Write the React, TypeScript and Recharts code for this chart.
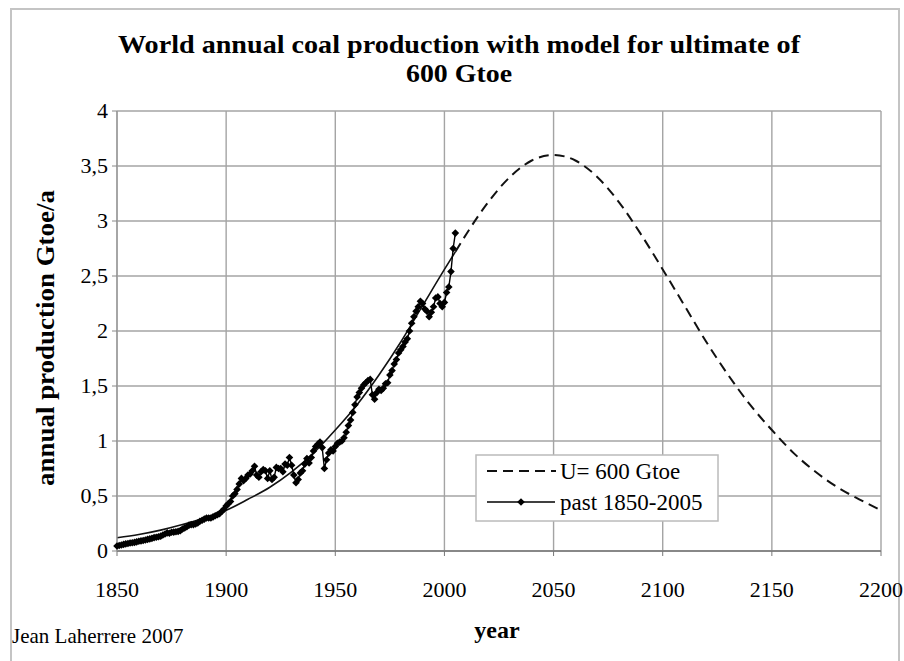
import { CartesianGrid, Line, LineChart, XAxis, YAxis } from "recharts";

const pastYears = [
  1850, 1851, 1852, 1853, 1854, 1855, 1856, 1857, 1858, 1859,
  1860, 1861, 1862, 1863, 1864, 1865, 1866, 1867, 1868, 1869,
  1870, 1871, 1872, 1873, 1874, 1875, 1876, 1877, 1878, 1879,
  1880, 1881, 1882, 1883, 1884, 1885, 1886, 1887, 1888, 1889,
  1890, 1891, 1892, 1893, 1894, 1895, 1896, 1897, 1898, 1899,
  1900, 1901, 1902, 1903, 1904, 1905, 1906, 1907, 1908, 1909,
  1910, 1911, 1912, 1913, 1914, 1915, 1916, 1917, 1918, 1919,
  1920, 1921, 1922, 1923, 1924, 1925, 1926, 1927, 1928, 1929,
  1930, 1931, 1932, 1933, 1934, 1935, 1936, 1937, 1938, 1939,
  1940, 1941, 1942, 1943, 1944, 1945, 1946, 1947, 1948, 1949,
  1950, 1951, 1952, 1953, 1954, 1955, 1956, 1957, 1958, 1959,
  1960, 1961, 1962, 1963, 1964, 1965, 1966, 1967, 1968, 1969,
  1970, 1971, 1972, 1973, 1974, 1975, 1976, 1977, 1978, 1979,
  1980, 1981, 1982, 1983, 1984, 1985, 1986, 1987, 1988, 1989,
  1990, 1991, 1992, 1993, 1994, 1995, 1996, 1997, 1998, 1999,
  2000, 2001, 2002, 2003, 2004, 2005,
];

// Gtoe/a
const pastProduction = [
  0.045, 0.05, 0.055, 0.06, 0.065, 0.068, 0.073, 0.075, 0.078, 0.083,
  0.088, 0.092, 0.095, 0.1, 0.106, 0.11, 0.115, 0.122, 0.125, 0.13,
  0.135, 0.145, 0.155, 0.165, 0.162, 0.17, 0.172, 0.175, 0.178, 0.185,
  0.2, 0.21, 0.22, 0.235, 0.24, 0.24, 0.245, 0.255, 0.27, 0.28,
  0.29, 0.3, 0.3, 0.3, 0.31, 0.32, 0.33, 0.34, 0.36, 0.38,
  0.41, 0.43, 0.45, 0.5, 0.52, 0.56, 0.61, 0.66, 0.64, 0.66,
  0.69, 0.7, 0.73, 0.77, 0.69, 0.67, 0.72, 0.74, 0.73, 0.66,
  0.73, 0.65, 0.67, 0.76, 0.75, 0.75, 0.72, 0.79, 0.78, 0.85,
  0.78, 0.69, 0.62, 0.65, 0.71, 0.73, 0.79, 0.84, 0.8, 0.85,
  0.91, 0.95, 0.97, 0.99, 0.94, 0.75, 0.83, 0.89, 0.92, 0.91,
  0.95, 0.98, 0.99, 1.0, 1.03, 1.08, 1.14, 1.19, 1.26, 1.33,
  1.4, 1.44, 1.48, 1.51, 1.53, 1.55, 1.56, 1.42, 1.38, 1.44,
  1.47, 1.46, 1.48, 1.52, 1.53, 1.6, 1.64, 1.7, 1.74, 1.8,
  1.83, 1.86, 1.9, 1.93, 2.0, 2.07, 2.13, 2.18, 2.22, 2.27,
  2.25, 2.2, 2.18, 2.13, 2.17, 2.22, 2.3, 2.31, 2.25, 2.22,
  2.26, 2.35, 2.4, 2.54, 2.75, 2.89,
];

// model U = 600 Gtoe, solid over the past
const modelPastYears = [1850, 1860, 1870, 1880, 1890, 1900, 1910, 1920, 1930, 1940, 1950, 1960, 1970, 1980, 1990, 2000, 2005];
const modelPastValues = [0.12, 0.15, 0.19, 0.24, 0.3, 0.37, 0.47, 0.58, 0.72, 0.89, 1.1, 1.33, 1.6, 1.9, 2.23, 2.56, 2.72];

// model, dashed for the forecast
const modelFutureYears = [2005, 2010, 2020, 2030, 2040, 2050, 2060, 2070, 2080, 2090, 2100, 2110, 2120, 2130, 2140, 2150, 2160, 2170, 2180, 2190, 2200];
const modelFutureValues = [2.72, 2.88, 3.17, 3.4, 3.55, 3.6, 3.55, 3.4, 3.17, 2.88, 2.56, 2.23, 1.9, 1.6, 1.33, 1.1, 0.89, 0.72, 0.58, 0.47, 0.37];

const xTicks = [1850, 1900, 1950, 2000, 2050, 2100, 2150, 2200];
const yTicks = [0, 0.5, 1, 1.5, 2, 2.5, 3, 3.5, 4];

const past = pastYears.map((year, i) => ({ year, value: pastProduction[i] }));
const modelPast = modelPastYears.map((year, i) => ({ year, value: modelPastValues[i] }));
const modelFuture = modelFutureYears.map((year, i) => ({ year, value: modelFutureValues[i] }));

const serif = "'Liberation Serif', 'Times New Roman', serif";

function Diamond({ cx, cy }: any) {
  if (cx == null || cy == null) return null;
  const r = 3.8;
  return <polygon points={`${cx},${cy - r} ${cx + r},${cy} ${cx},${cy + r} ${cx - r},${cy}`} fill="#000" />;
}

function XTick({ x, y, payload }: any) {
  return (
    <text x={x} y={y + 39} textAnchor="middle" fontSize={22} fontFamily={serif} fill="#000">
      {payload.value}
    </text>
  );
}

function YTick({ x, y, payload }: any) {
  return (
    <text x={x - 2} y={y + 7} textAnchor="end" fontSize={22} fontFamily={serif} fill="#000">
      {String(payload.value).replace(".", ",")}
    </text>
  );
}

export default function App() {
  return (
    <div style={{ position: "absolute", left: 0, top: 0, width: 904, height: 661, background: "#fff", overflow: "hidden" }}>
      <div style={{ position: "absolute", left: 10, top: 8, width: 886, height: 700, border: "2px solid #c4c4c4" }} />
      <div style={{ position: "absolute", left: 0, top: 0 }}>
        <LineChart width={904} height={661} margin={{ top: 111, right: 23, bottom: 70, left: 57 }}>
          <CartesianGrid stroke="#a4a4a4" strokeWidth={1.4} />
          <XAxis
            dataKey="year"
            type="number"
            domain={[1850, 2200]}
            ticks={xTicks}
            height={40}
            allowDuplicatedCategory={false}
            tick={<XTick />}
            tickSize={5}
            tickLine={{ stroke: "#777" }}
            axisLine={{ stroke: "#777", strokeWidth: 1.5 }}
          />
          <YAxis
            type="number"
            domain={[0, 4]}
            ticks={yTicks}
            width={60}
            tick={<YTick />}
            tickSize={5}
            tickLine={{ stroke: "#888" }}
            axisLine={{ stroke: "#999", strokeWidth: 1.3 }}
          />
          <Line data={modelPast} dataKey="value" type="monotone" stroke="#111" strokeWidth={1.6} dot={false} isAnimationActive={false} />
          <Line data={modelFuture} dataKey="value" type="monotone" stroke="#111" strokeWidth={2} strokeDasharray="10 6" dot={false} isAnimationActive={false} />
          <Line data={past} dataKey="value" type="linear" stroke="#000" strokeWidth={1.4} dot={<Diamond />} isAnimationActive={false} />
        </LineChart>
      </div>
      <svg width={904} height={661} style={{ position: "absolute", left: 0, top: 0, pointerEvents: "none" }}>
        <g fontFamily={serif} fill="#000">
          <text x={459} y={53} textAnchor="middle" fontSize={26} fontWeight="bold" textLength={682} lengthAdjust="spacingAndGlyphs">
            World annual coal production with model for ultimate of
          </text>
          <text x={459} y={82} textAnchor="middle" fontSize={26} fontWeight="bold" textLength={106} lengthAdjust="spacingAndGlyphs">
            600 Gtoe
          </text>
          <text transform="translate(54 338) rotate(-90)" textAnchor="middle" fontSize={25} fontWeight="bold" textLength={296} lengthAdjust="spacingAndGlyphs">
            annual production Gtoe/a
          </text>
          <text x={497} y={638} textAnchor="middle" fontSize={24} fontWeight="bold">
            year
          </text>
          <text x={12} y={643} fontSize={21}>
            Jean Laherrere 2007
          </text>
        </g>
        <rect x={476} y={455} width={242} height={66} fill="#fff" stroke="#bbb" strokeWidth={1.5} />
        <line x1={487} y1={471} x2={556} y2={471} stroke="#111" strokeWidth={2} strokeDasharray="10 6" />
        <line x1={487} y1={502} x2={555} y2={502} stroke="#000" strokeWidth={1.4} />
        <Diamond cx={521} cy={502} />
        <text x={560} y={479} fontSize={23} fontFamily={serif}>U= 600 Gtoe</text>
        <text x={560} y={510} fontSize={23} fontFamily={serif}>past 1850-2005</text>
      </svg>
    </div>
  );
}
